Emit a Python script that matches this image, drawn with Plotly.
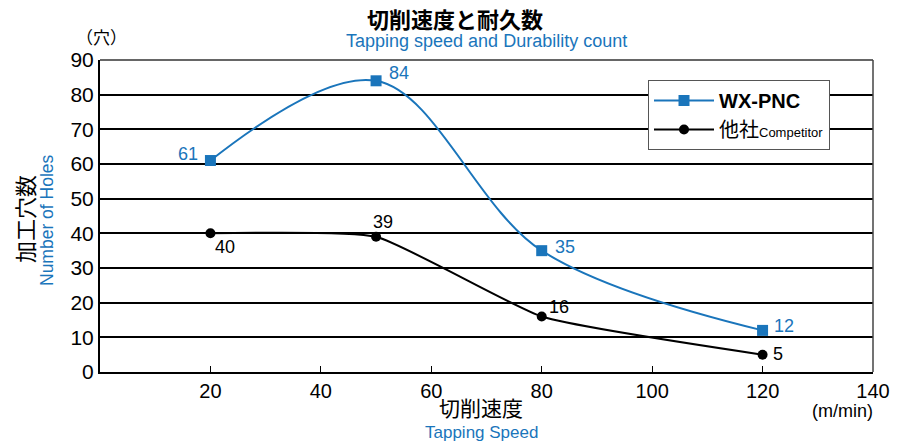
import plotly.graph_objects as go

speed = [20, 50, 80, 120]
wx_pnc = [61, 84, 35, 12]
competitor = [40, 39, 16, 5]
x_ticks = [20, 40, 60, 80, 100, 120, 140]
y_ticks = [0, 10, 20, 30, 40, 50, 60, 70, 80, 90]

BLUE = "#1a75bb"
NUM_FONT = "Liberation Sans, Arial, sans-serif"
JP_FONT = "Noto Sans CJK JP, sans-serif"

fig = go.Figure()
fig.add_trace(go.Scatter(
    x=speed, y=wx_pnc, mode="lines+markers", name="<b>WX-PNC</b>",
    line=dict(color=BLUE, width=2, shape="spline", smoothing=1.0),
    marker=dict(symbol="square", size=11, color=BLUE),
))
fig.add_trace(go.Scatter(
    x=speed, y=competitor, mode="lines+markers",
    name="他社<span style='font-size:13px'>Competitor</span>",
    line=dict(color="black", width=2, shape="spline", smoothing=0.45),
    marker=dict(symbol="circle", size=10, color="black"),
))

ann = []
blue_off = [(-22, 7), (23, 8), (23, 4), (21, 4)]
black_off = [(15, -14), (7, 15), (17, 10), (15, 1)]
for x, y, (dx, dy) in zip(speed, wx_pnc, blue_off):
    ann.append(dict(x=x, y=y, text=str(y), showarrow=False, xshift=dx, yshift=dy,
                    font=dict(family=NUM_FONT, size=18, color=BLUE)))
for x, y, (dx, dy) in zip(speed, competitor, black_off):
    ann.append(dict(x=x, y=y, text=str(y), showarrow=False, xshift=dx, yshift=dy,
                    font=dict(family=NUM_FONT, size=18, color="black")))


def pann(px, py, text, size, color, family, angle=0):
    return dict(xref="paper", yref="paper", x=(px - 100) / 773, y=(372 - py) / 312,
                xanchor="center", yanchor="middle", text=text, showarrow=False,
                textangle=angle, font=dict(family=family, size=size, color=color))


ann += [
    pann(455, 18, "<b>切削速度と耐久数</b>", 22, "black", JP_FONT),
    pann(486, 41, "Tapping speed and Durability count", 18, BLUE, NUM_FONT),
    pann(101, 36, "（穴）", 17, "black", JP_FONT),
    pann(24, 219, "加工穴数", 22, "black", JP_FONT, -90),
    pann(47, 220, "Number of Holes", 17.5, BLUE, NUM_FONT, -90),
    pann(481, 407, "切削速度", 21, "black", JP_FONT),
    pann(481, 432, "Tapping Speed", 17, BLUE, NUM_FONT),
    pann(842, 411, "(m/min)", 18, "black", NUM_FONT),
]

fig.update_layout(
    width=905, height=441,
    margin=dict(l=100, r=32, t=60, b=69),
    plot_bgcolor="white", paper_bgcolor="white",
    showlegend=True,
    legend=dict(x=(648 - 100) / 773, y=(372 - 80) / 312, xanchor="left", yanchor="top",
                bgcolor="white", bordercolor="#555555", borderwidth=1,
                font=dict(family=NUM_FONT + ", " + JP_FONT, size=20, color="black"),
                itemwidth=60, tracegroupgap=0),
    annotations=ann,
    shapes=[
        dict(type="line", xref="paper", yref="paper", x0=0, x1=1, y0=1, y1=1,
             line=dict(color="#666666", width=2)),
        dict(type="line", xref="paper", yref="paper", x0=1, x1=1, y0=0, y1=1,
             line=dict(color="#444444", width=1.5)),
    ],
)
fig.update_xaxes(range=[0, 140], tickvals=x_ticks, ticks="inside", ticklen=6,
                 tickcolor="black", showgrid=False, zeroline=False,
                 showline=True, linecolor="black", linewidth=2,
                 tickfont=dict(family=NUM_FONT, size=20, color="black"))
fig.update_yaxes(range=[0, 90], tickvals=y_ticks, showgrid=True, gridcolor="black",
                 gridwidth=1.5, zeroline=False, showline=True, linecolor="black",
                 linewidth=2, ticks="", ticklen=0,
                 tickfont=dict(family=NUM_FONT, size=21, color="black"))

fig.write_html("out.html")
